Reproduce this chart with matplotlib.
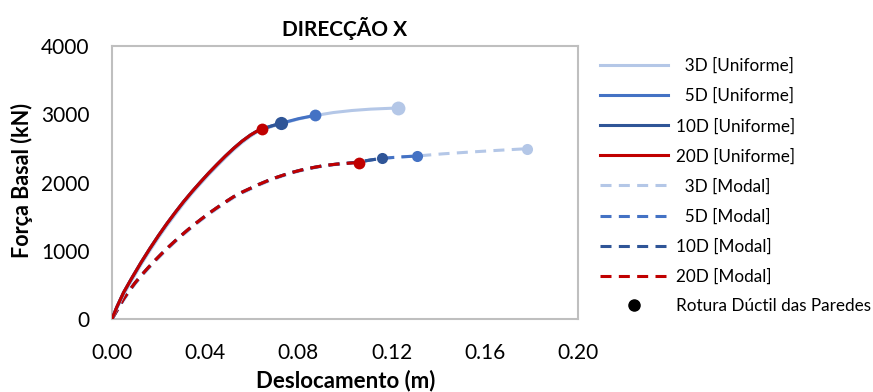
import matplotlib
matplotlib.use("Agg")
import matplotlib.pyplot as plt
from matplotlib.lines import Line2D

plt.rcParams['font.family'] = ['Lato', 'DejaVu Sans']

# Uniform load pattern pushover curves (Deslocamento m, Força kN)
uni_20d_x = [0, 0.002, 0.005, 0.0085, 0.0125, 0.0163, 0.020, 0.0235, 0.0271, 0.0307, 0.0343, 0.0378,
             0.0414, 0.045, 0.0486, 0.0522, 0.0558, 0.0594, 0.062, 0.0644]
uni_20d_y = [0, 170, 390, 600, 830, 1035, 1225, 1395, 1560, 1718, 1865, 2000,
             2135, 2262, 2385, 2500, 2605, 2695, 2748, 2784]
uni_10d_x = uni_20d_x + [0.0684, 0.0724]
uni_10d_y = uni_20d_y + [2828, 2867]
uni_5d_x = uni_10d_x + [0.080, 0.0873]
uni_5d_y = uni_10d_y + [2935, 2985]
uni_3d_x = uni_5d_x + [0.095, 0.103, 0.111, 0.1227]
uni_3d_y = [0, 150, 360, 570, 800, 1005, 1195, 1365, 1530, 1690, 1840, 1975,
            2110, 2238, 2362, 2478, 2585, 2677, 2735, 2772,
            2818, 2858, 2930, 2982, 3025, 3055, 3075, 3092]

# Modal load pattern pushover curves
mod_20d_x = [0, 0.0025, 0.0049, 0.0075, 0.0099, 0.0128, 0.0156, 0.0185, 0.0213, 0.0242, 0.0271, 0.030,
             0.0329, 0.036, 0.0393, 0.042, 0.045, 0.0486, 0.0522, 0.0558, 0.0594, 0.063, 0.0665, 0.070,
             0.0737, 0.0773, 0.0809, 0.0845, 0.088, 0.092, 0.0966, 0.101, 0.106]
mod_20d_y = [0, 150, 290, 420, 530, 648, 755, 860, 957, 1053, 1145, 1233,
             1317, 1403, 1490, 1558, 1630, 1713, 1792, 1858, 1915, 1972, 2022, 2068,
             2110, 2148, 2180, 2207, 2230, 2252, 2270, 2282, 2292]
mod_10d_x = mod_20d_x[:-1] + [0.106, 0.111, 0.116]
mod_10d_y = mod_20d_y[:-1] + [2302, 2330, 2354]
mod_5d_x = mod_10d_x + [0.123, 0.1308]
mod_5d_y = mod_10d_y + [2373, 2388]
mod_3d_x = mod_5d_x + [0.142, 0.154, 0.166, 0.178]
mod_3d_y = [0, 135, 272, 402, 512, 630, 737, 842, 940, 1036, 1128, 1216,
            1300, 1387, 1474, 1542, 1614, 1698, 1777, 1844, 1901, 1959, 2010, 2057,
            2100, 2139, 2172, 2200, 2224, 2247, 2266, 2280,
            2300, 2330, 2354, 2373, 2388, 2420, 2447, 2472, 2495]

labels = ["  3D [Uniforme]", "  5D [Uniforme]", "10D [Uniforme]", "20D [Uniforme]",
          "  3D [Modal]", "  5D [Modal]", "10D [Modal]", "20D [Modal]"]
marker_label = "Rotura Dúctil das Paredes"
x_ticks = [0.00, 0.04, 0.08, 0.12, 0.16, 0.20]
y_ticks = [0, 1000, 2000, 3000, 4000]

colors = ["#B4C7E7", "#4472C4", "#2F5597", "#C00000"]
uni_ms = [10, 8.5, 9.5, 8.5]
mod_ms = [8, 8, 8, 8.5]

fig = plt.figure(figsize=(8.73, 3.92), dpi=100)
ax = fig.add_axes([112/873, 1-319/392, (578-112)/873, (319-46)/392])

uni = [(uni_3d_x, uni_3d_y), (uni_5d_x, uni_5d_y), (uni_10d_x, uni_10d_y), (uni_20d_x, uni_20d_y)]
mod = [(mod_3d_x, mod_3d_y), (mod_5d_x, mod_5d_y), (mod_10d_x, mod_10d_y), (mod_20d_x, mod_20d_y)]

lw = 2.2
dash = (3.6, 2.4)
handles = []
for i, (x, y) in enumerate(mod):
    ax.plot(x, y, color=colors[i], lw=lw, linestyle=(0, dash), zorder=2 + i)
for i, (x, y) in enumerate(uni):
    ax.plot(x, y, color=colors[i], lw=lw, zorder=6 + i, solid_capstyle='butt', solid_joinstyle='round')
for i, (x, y) in enumerate(uni):
    ax.plot(x[-1], y[-1], 'o', color=colors[i], ms=uni_ms[i], mec='none', zorder=20 + i)
for i, (x, y) in enumerate(mod):
    ax.plot(x[-1], y[-1], 'o', color=colors[i], ms=mod_ms[i], mec='none', zorder=20 + i)

for i in range(4):
    handles.append(Line2D([], [], color=colors[i], lw=lw))
for i in range(4):
    handles.append(Line2D([], [], color=colors[i], lw=lw, linestyle=(0, dash)))
handles.append(Line2D([], [], color='black', marker='o', ms=8, linestyle='none'))

ax.set_xlim(0, 0.20)
ax.set_ylim(0, 4000)
ax.set_xticks(x_ticks)
ax.set_xticklabels([f"{v:.2f}" for v in x_ticks])
ax.set_yticks(y_ticks)
ax.set_yticklabels([str(v) for v in y_ticks])
ax.tick_params(length=0, labelsize=15, colors='black')
ax.tick_params(axis='x', pad=17)
ax.tick_params(axis='y', pad=16)
for s in ax.spines.values():
    s.set_color('#BFBFBF')
    s.set_linewidth(1.5)

fig.text(345/873, 1-28/392, "DIRECÇÃO X", ha='center', va='center', fontsize=15, fontweight='bold')
fig.text(346/873, 1-381/392, "Deslocamento (m)", ha='center', va='center', fontsize=16, fontweight='bold')
fig.text(22/873, 1-181/392, "Força Basal (kN)", ha='center', va='center', fontsize=15.5, fontweight='bold', rotation=90)

fs = 12.3
fpx = fs * 100 / 72
leg = fig.legend(handles, labels + [marker_label], loc='upper left',
                 bbox_to_anchor=(600/873, 1-58/392), frameon=False, fontsize=fs,
                 handlelength=68/fpx, handletextpad=8/fpx, labelspacing=0.81,
                 borderpad=0, borderaxespad=0)

fig.savefig("out.png", dpi=100)
